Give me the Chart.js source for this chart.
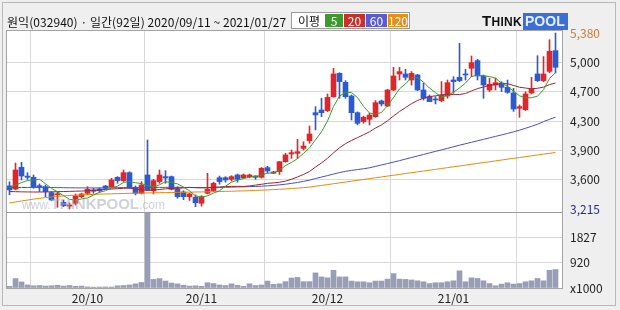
<!DOCTYPE html>
<html>
<head>
<meta charset="utf-8">
<script src="https://cdn.jsdelivr.net/npm/chart.js@4.4.1/dist/chart.umd.min.js"></script>
<style>
html,body{margin:0;padding:0;background:#efefef;}
#wrap{position:relative;width:620px;height:310px;overflow:hidden;background:#efefef;font-family:'Noto Sans CJK KR',sans-serif;}
#frame{position:absolute;left:2px;top:2px;width:614px;height:304px;border:1px solid #b9b9b9;box-sizing:border-box;}
canvas{position:absolute;left:0;top:0;}
#title{position:absolute;left:7px;top:13px;font-size:12px;line-height:17px;color:#111;white-space:nowrap;letter-spacing:0.05px;}
#legend{position:absolute;left:291px;top:12px;width:119px;height:17px;border:1px solid #9a9a9a;background:#fff;box-sizing:border-box;font-size:12px;}
#legend span{position:absolute;top:1px;height:13px;line-height:13px;text-align:center;color:#fff;}
#legend .lt{left:2px;width:30px;color:#111;}
#logo{position:absolute;left:482px;top:12px;height:17px;white-space:nowrap;font-family:'Liberation Sans',Arial,sans-serif;font-weight:bold;line-height:17px;}
#logo .think{color:#111;font-size:15px;letter-spacing:0.3px;}
#logo .think small{font-size:12px;}
#logo .pool{display:inline-block;background:#3b6fd6;color:#e8eeff;font-size:14px;padding:0 3px 0 2px;margin-left:1px;}
#wm{position:absolute;left:22px;top:196px;white-space:nowrap;font-family:'Liberation Sans',Arial,sans-serif;color:rgba(165,170,188,0.55);line-height:16px;}
#wm .s{font-size:12px;}
#wm b{font-size:15px;}
</style>
</head>
<body>
<div id="wrap">
  <canvas id="c" width="620" height="310"></canvas>
  <div id="frame"></div>
  <div id="title">원익(032940) · 일간(92일) 2020/09/11 ~ 2021/01/27</div>
  <div id="legend">
    <span class="lt">이평</span>
    <span style="left:33px;width:18px;background:#3e9a30">5</span>
    <span style="left:52px;width:21px;background:#c8302c">20</span>
    <span style="left:74px;width:21px;background:#5a5ad6">60</span>
    <span style="left:96px;width:20px;background:#e5901c">120</span>
  </div>
  <div id="logo"><span class="think">T<small>HINK</small></span><span class="pool">POOL</span></div>
  <div id="wm"><span class="s">www.</span><b>THINKPOOL</b><span class="s">.com</span></div>
</div>
<script>
// ---- categories (trading days) ----
const dates = [
 '09/11','09/14','09/15','09/16','09/17','09/18','09/21','09/22','09/23','09/24','09/25','09/28','09/29',
 '10/05','10/06','10/07','10/08','10/12','10/13','10/14','10/15','10/16','10/19','10/20','10/21','10/22','10/23','10/26','10/27','10/28','10/29','10/30',
 '11/02','11/03','11/04','11/05','11/06','11/09','11/10','11/11','11/12','11/13','11/16','11/17','11/18','11/19','11/20','11/23','11/24','11/25','11/26','11/27','11/30',
 '12/01','12/02','12/03','12/04','12/07','12/08','12/09','12/10','12/11','12/14','12/15','12/16','12/17','12/18','12/21','12/22','12/23','12/24','12/28','12/29','12/30',
 '01/04','01/05','01/06','01/07','01/08','01/11','01/12','01/13','01/14','01/15','01/18','01/19','01/20','01/21','01/22','01/25','01/26','01/27'
];
// ---- price series ----
const opens = [3500,3460,3728,3620,3605,3495,3490,3416,3390,3297,3250,3285,3367,3408,3449,3461,3498,3490,3605,3564,
 3662,3482,3408,3634,3441,3552,3613,3613,3457,3425,3367,3359,3285,3408,3441,3600,3600,3580,3634,3600,
 3613,3621,3605,3724,3654,3675,3797,3892,3900,3961,4056,4400,4433,4425,4597,4884,4773,4605,4400,4290,
 4318,4351,4544,4482,4679,4876,4876,4802,4864,4679,4597,4564,4548,4605,4802,4835,4876,4946,5040,4851,
 4679,4740,4765,4712,4642,4454,4437,4642,4876,4794,4908,5163];
const highs = [3550,3780,3789,3662,3634,3523,3510,3428,3428,3326,3290,3400,3410,3490,3470,3475,3505,3592,3613,3695,
 3674,3498,3552,4064,3580,3695,3687,3621,3490,3440,3410,3388,3380,3654,3545,3620,3613,3625,3645,3645,
 3645,3625,3725,3740,3680,3800,3900,3941,4072,4043,4236,4474,4577,4630,4946,4892,4794,4618,4410,4359,
 4392,4548,4556,4687,4958,4958,4933,4905,4872,4761,4617,4597,4782,4802,4843,5253,4933,5097,5056,4864,
 4823,4823,4782,4802,4700,4495,4658,4835,5101,5090,5298,5380];
const lows = [3390,3450,3572,3580,3470,3430,3367,3318,3236,3244,3215,3264,3355,3388,3408,3420,3460,3482,3531,3552,
 3470,3388,3400,3441,3400,3531,3531,3449,3347,3330,3320,3244,3250,3400,3430,3520,3545,3560,3545,3590,
 3600,3580,3595,3660,3650,3640,3790,3838,3838,3941,4023,4187,4351,4413,4589,4577,4577,4310,4250,4269,
 4249,4343,4482,4474,4671,4802,4802,4740,4671,4556,4536,4507,4536,4577,4638,4782,4802,4843,4802,4577,
 4659,4679,4660,4638,4416,4343,4425,4630,4782,4780,4890,4888];
const closes = [3450,3695,3621,3605,3490,3490,3430,3326,3400,3256,3265,3375,3400,3457,3433,3440,3470,3572,3564,3662,
 3490,3408,3510,3449,3564,3634,3597,3457,3367,3367,3400,3293,3367,3457,3531,3552,3572,3613,3580,3634,
 3634,3605,3715,3683,3670,3797,3880,3908,3920,3990,4138,4372,4400,4589,4876,4782,4597,4400,4269,4343,
 4371,4523,4507,4679,4851,4905,4835,4884,4679,4577,4536,4556,4618,4769,4782,4794,4864,5015,4851,4740,
 4749,4769,4712,4650,4445,4474,4630,4691,4794,4876,5155,4958];
// ---- moving averages ----
const ma5 = [3480,3510,3540,3565,3572,3580,3527,3468,3427,3380,3335,3324,3339,3351,3386,3421,3440,3474,3496,3542,
 3552,3539,3527,3504,3484,3513,3551,3540,3524,3484,3438,3377,3359,3377,3410,3440,3496,3545,3570,3590,
 3607,3613,3634,3654,3661,3694,3749,3788,3835,3899,3967,4066,4164,4298,4475,4604,4649,4649,4585,4478,
 4396,4381,4403,4485,4586,4693,4755,4831,4831,4776,4702,4646,4593,4611,4652,4704,4765,4845,4861,4853,
 4844,4825,4764,4724,4664,4608,4582,4584,4603,4683,4820,4895];
const ma20 = [3430,3428,3426,3425,3424,3424,3425,3426,3428,3430,3432,3434,3436,3440,3445,3450,3455,3460,3465,3470,
 3472,3458,3452,3444,3448,3455,3463,3470,3468,3474,3481,3477,3475,3475,3480,3486,3491,3493,3494,3492,
 3499,3509,3519,3531,3536,3544,3558,3581,3609,3640,3677,3731,3782,3839,3906,3968,4019,4058,4093,4128,
 4165,4211,4250,4300,4359,4415,4462,4511,4549,4578,4598,4607,4618,4627,4622,4623,4636,4667,4696,4716,
 4735,4747,4757,4756,4735,4713,4703,4694,4700,4714,4745,4765];
const ma60 = [3478,3479,3480,3480,3481,3481,3480,3479,3478,3477,3476,3475,3475,3474,3474,3474,3475,3476,3477,3478,
 3478,3478,3478,3479,3480,3481,3481,3482,3481,3480,3480,3479,3479,3479,3480,3481,3482,3484,3486,3488,
 3490,3492,3496,3500,3505,3512,3520,3530,3542,3555,3570,3590,3608,3626,3645,3663,3678,3690,3700,3710,
 3722,3740,3757,3774,3792,3810,3829,3848,3867,3886,3905,3924,3942,3961,3980,4000,4018,4036,4054,4072,
 4090,4108,4126,4145,4164,4185,4208,4232,4258,4290,4318,4345];
const ma120 = [3290,3302,3314,3325,3336,3346,3355,3363,3370,3376,3381,3385,3389,3392,3395,3398,3400,3402,3404,3406,
 3408,3410,3411,3413,3414,3416,3417,3418,3420,3421,3422,3424,3425,3427,3428,3430,3432,3434,3436,3438,
 3441,3444,3447,3450,3454,3458,3462,3467,3472,3478,3484,3495,3505,3515,3526,3536,3547,3557,3568,3578,
 3588,3599,3609,3620,3630,3640,3651,3661,3672,3682,3692,3703,3713,3724,3734,3744,3755,3765,3776,3786,
 3796,3807,3817,3828,3838,3848,3859,3869,3880,3890,3900,3910];
// ---- volume (x1000) ----
const volumes = [60,340,220,110,80,90,70,80,100,70,90,60,70,40,30,35,40,35,80,90,
 110,150,200,2700,310,340,250,180,150,100,70,80,60,190,160,110,90,150,100,60,
 150,90,110,250,130,150,230,360,380,230,230,545,400,367,640,400,400,250,225,225,
 190,250,250,320,520,320,310,290,260,225,160,190,190,225,260,620,225,367,345,260,
 160,80,140,190,140,160,225,260,345,260,640,665];
// ---- tick labels ----
const monthTickLabels = ['20/10','20/11','20/12','21/01'];
const priceTickLabels = ['5,380','5,000','4,700','4,300','3,900','3,600','3,215'];
const volumeTickValues = [1827, 920, 0];
const volumeTickLabels = ['1827','920','x1000'];

// ---- derived ----
const n = dates.length;
const idx = dates.map((_, i) => i);
const UP = '#e0262a', DOWN = '#2b5bd3';
const candleColors = idx.map(i => closes[i] >= opens[i] ? UP : DOWN);
const monthStarts = [];
for (let i = 1; i < n; i++) if (dates[i].slice(0,2) !== dates[i-1].slice(0,2)) monthStarts.push(i);
const hi = Math.max(...highs), lo = Math.min(...lows);
const unit = (hi - lo) / 176;
const yMin = lo - 3 * unit, yMax = hi + 2 * unit;
const xMin = -2.5 / 6, xMax = xMin + 92.5;
const volMax = volumeTickValues[0] * 1.5;
const GRID = '#d8d8d8';

Chart.defaults.font.family = "'Noto Sans CJK KR', sans-serif";
Chart.defaults.font.size = 12;

const panelPlugin = {
  id: 'panel',
  beforeDraw(chart) {
    const {ctx, chartArea: a} = chart;
    ctx.save();
    ctx.fillStyle = '#ffffff';
    ctx.fillRect(a.left, a.top, a.right - a.left, a.bottom - a.top);
    ctx.restore();
  },
  afterDraw(chart) {
    const {ctx, chartArea: a, scales} = chart;
    ctx.save();
    ctx.strokeStyle = '#a4a4a4';
    ctx.lineWidth = 1;
    ctx.strokeRect(Math.round(a.left) - 0.5, Math.round(a.top) - 0.5, Math.round(a.right - a.left) + 1, Math.round(a.bottom - a.top) + 1);
    const yb = Math.round(scales.y.bottom) + 0.5;
    ctx.strokeStyle = '#9a9a9a';
    ctx.beginPath(); ctx.moveTo(a.left, yb); ctx.lineTo(a.right, yb); ctx.stroke();
    ctx.restore();
  }
};

const lineDs = (label, arr, color, order) => ({
  type: 'line', label, data: idx.map(i => ({x: i, y: arr[i]})),
  borderColor: color, borderWidth: 1, pointRadius: 0, tension: 0, yAxisID: 'y', order
});

new Chart(document.getElementById('c'), {
  type: 'bar',
  data: {
    datasets: [
      lineDs('MA5', ma5, '#3a9c2c', 1),
      lineDs('MA20', ma20, '#9e2432', 2),
      lineDs('MA60', ma60, '#4c4cc4', 3),
      lineDs('MA120', ma120, '#e3890f', 4),
      {type: 'bar', label: 'body', data: idx.map(i => ({x: i, y: [opens[i], closes[i]]})),
       backgroundColor: candleColors, barThickness: 5, minBarLength: 1, grouped: false, yAxisID: 'y', order: 5},
      {type: 'bar', label: 'wick', data: idx.map(i => ({x: i, y: [lows[i], highs[i]]})),
       backgroundColor: candleColors, barThickness: 1, grouped: false, yAxisID: 'y', order: 6},
      {type: 'bar', label: 'volume', data: idx.map(i => ({x: i, y: volumes[i]})),
       backgroundColor: '#989db8', barThickness: 5, grouped: false, yAxisID: 'yv', order: 7}
    ]
  },
  options: {
    responsive: false,
    animation: false,
    devicePixelRatio: 1,
    events: [],
    layout: {padding: {left: 7, top: 31, right: 0, bottom: 0}},
    plugins: {legend: {display: false}, tooltip: {enabled: false}},
    scales: {
      x: {
        type: 'linear', min: xMin, max: xMax, offset: false, position: 'bottom',
        grid: {color: GRID, drawTicks: false},
        border: {display: false},
        afterBuildTicks: s => { s.ticks = monthStarts.map(v => ({value: v})); },
        afterFit: s => { s.height = 22; s.paddingLeft = 0; s.paddingRight = 0; },
        ticks: {autoSkip: false, maxRotation: 0, padding: 3, color: '#222',
                callback: (v, i) => monthTickLabels[i]}
      },
      y: {
        type: 'linear', position: 'right', stack: 'panes', stackWeight: 181,
        min: yMin, max: yMax,
        grid: {drawTicks: false, color: c => (c.index === 0 || c.index === priceTickLabels.length - 1) ? 'rgba(0,0,0,0)' : GRID},
        border: {display: false},
        afterBuildTicks: s => { s.ticks = priceTickLabels.map((_, k) => ({value: hi - k * (hi - lo) / (priceTickLabels.length - 1)})); },
        afterFit: s => { s.width = 58; s.paddingTop = 0; s.paddingBottom = 0; },
        ticks: {autoSkip: false, padding: 8,
                color: c => c.index === 0 ? '#c97a3a' : (c.index === priceTickLabels.length - 1 ? '#2a2a8c' : '#222'),
                callback: (v, i) => priceTickLabels[i]}
      },
      yv: {
        type: 'linear', position: 'right', stack: 'panes', stackWeight: 76,
        min: 0, max: volMax,
        grid: {drawTicks: false, color: c => volumeTickValues[c.index] === 0 ? 'rgba(0,0,0,0)' : GRID},
        border: {display: false},
        afterBuildTicks: s => { s.ticks = volumeTickValues.map(v => ({value: v})); },
        afterFit: s => { s.width = 58; s.paddingTop = 0; s.paddingBottom = 0; },
        ticks: {autoSkip: false, padding: 8, color: '#222',
                callback: (v, i) => volumeTickLabels[i]}
      }
    }
  },
  plugins: [panelPlugin]
});
</script>
</body>
</html>
